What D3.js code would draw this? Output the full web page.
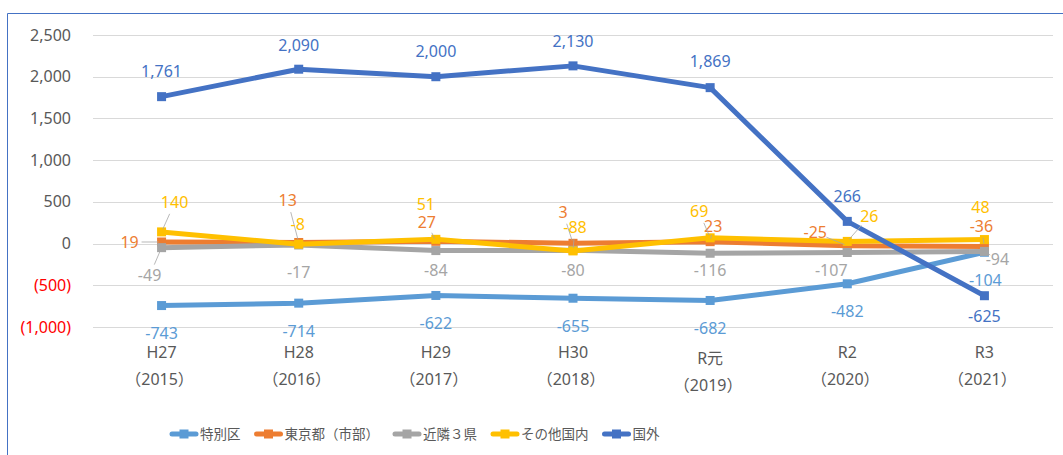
<!DOCTYPE html>
<meta charset="utf-8">
<title>転入超過数の推移</title>
<style>
  body { margin: 0; background: #fff; }
  svg { font-family: "Noto Sans", "Noto Sans CJK JP", sans-serif; }
  .grid line { stroke: #d9d9d9; stroke-width: 1px; }
  .tick-label { font-size: 16px; fill: #595959; }
  .cat-label { font-size: 16px; fill: #595959; }
  .legend text { font-size: 13.5px; fill: #595959; }
  .data-label { font-size: 16px; }
  .leader { stroke: #a6a6a6; stroke-width: 0.8px; fill: none; }
</style>
<svg width="1063" height="455"></svg>
<script src="https://d3js.org/d3.v7.min.js"></script>
<script>
  // categories
  var categories = ["H27", "H28", "H29", "H30", "R元", "R2", "R3"];
  var years = ["（2015）", "（2016）", "（2017）", "（2018）", "（2019）", "（2020）", "（2021）"];

  // series values
  var tokubetsuku = [-743, -714, -622, -655, -682, -482, -104];
  var tokyoShibu = [19, 13, 27, 3, 23, -25, -36];
  var kinrin3ken = [-49, -17, -84, -80, -116, -107, -94];
  var sonotaKokunai = [140, -8, 51, -88, 69, 26, 48];
  var kokugai = [1761, 2090, 2000, 2130, 1869, 266, -625];

  // y tick values
  var yTicks = [2500, 2000, 1500, 1000, 500, 0, -500, -1000];

  // label placement (dx, dy, leader line) per point -- layout only
  var labelPos = {
    "特別区": [[0, 28], [0, 28], [0, 28], [0, 28], [0, 28], [0, 28], [1, 28]],
    "東京都（市部）": [[-32, 0, 1], [-11, -42, 1], [-9, -19, 1], [-10, -31, 1], [3, -15, 1], [-32, -13, 1], [-3, -20, 1]],
    "近隣３県": [[-12, 28, 1], [0, 27], [0, 20], [0, 20], [0, 17], [-16, 18], [13, 8, 1]],
    "その他国内": [[13, -29, 1], [-1, -20], [-10, -35], [2, -24, 1], [-11, -26, 1], [22, -25, 1], [-4, -32]],
    "国外": [[0, -25], [0, -24], [0, -25], [0, -24], [0, -26], [0, -25], [0, 21]]
  };
  var catShift = [0, 0, 0, 0, 6, 0, 0];

  var series = [
    { name: "特別区", values: tokubetsuku, color: "#5b9bd5" },
    { name: "東京都（市部）", values: tokyoShibu, color: "#ed7d31" },
    { name: "近隣３県", values: kinrin3ken, color: "#a5a5a5" },
    { name: "その他国内", values: sonotaKokunai, color: "#ffc000" },
    { name: "国外", values: kokugai, color: "#4472c4" }
  ];

  var svg = d3.select("svg");

  // chart frame (only left / top edges are in view)
  svg.append("path")
    .attr("d", "M7.5,455 V13.5 H1063")
    .attr("fill", "none")
    .attr("stroke", "#4472c4")
    .attr("stroke-width", 1);

  var x = d3.scaleBand().domain(categories).range([93, 1053]).padding(0);
  var y = d3.scaleLinear().domain([-1000, 2500]).range([327, 35]);
  var cx = function (i) { return x(categories[i]) + x.bandwidth() / 2; };

  // gridlines
  svg.append("g").attr("class", "grid")
    .selectAll("line")
    .data(yTicks)
    .join("line")
    .attr("x1", 93).attr("x2", 1053)
    .attr("y1", d => Math.round(y(d)) + 0.5)
    .attr("y2", d => Math.round(y(d)) + 0.5);

  // plain hyphen for negatives, as in the original
  var loc = d3.formatLocale({ decimal: ".", thousands: ",", grouping: [3], currency: ["", ""], minus: "-" });
  var fmt = loc.format(",");

  // y tick labels, negatives in red with parentheses
  svg.append("g")
    .selectAll("text")
    .data(yTicks)
    .join("text")
    .attr("class", "tick-label")
    .attr("x", 71)
    .attr("y", d => y(d))
    .attr("dy", "0.35em")
    .attr("text-anchor", "end")
    .style("fill", d => d < 0 ? "#ff0000" : null)
    .text(d => d < 0 ? "(" + fmt(-d) + ")" : fmt(d));

  // category labels
  var cats = svg.append("g").selectAll("text")
    .data(categories)
    .join("text")
    .attr("class", "cat-label")
    .attr("text-anchor", "middle")
    .attr("x", (d, i) => cx(i));
  cats.append("tspan")
    .attr("x", (d, i) => cx(i))
    .attr("y", (d, i) => 358 + catShift[i])
    .text(d => d);
  cats.append("tspan")
    .attr("x", (d, i) => cx(i) - 2)
    .attr("y", (d, i) => 385 + catShift[i])
    .text((d, i) => years[i]);

  // lines and markers
  var line = d3.line()
    .x((d, i) => cx(i))
    .y(d => y(d));

  series.forEach(function (s) {
    var g = svg.append("g");
    g.append("path")
      .datum(s.values)
      .attr("d", line)
      .attr("fill", "none")
      .attr("stroke", s.color)
      .attr("stroke-width", 5)
      .attr("stroke-linejoin", "round");
    g.selectAll("rect")
      .data(s.values)
      .join("rect")
      .attr("x", (d, i) => cx(i) - 4.5)
      .attr("y", d => y(d) - 4.5)
      .attr("width", 9)
      .attr("height", 9)
      .attr("fill", s.color);
  });

  // data labels
  series.forEach(function (s) {
    var pos = labelPos[s.name];
    var g = svg.append("g");
    s.values.forEach(function (v, i) {
      var p = pos[i];
      var px = cx(i), py = y(v);
      var lx = px + p[0], ly = py + p[1];
      if (p[2]) {
        var dx = lx - px, dy = ly - py;
        var len = Math.sqrt(dx * dx + dy * dy);
        var ux = dx / len, uy = dy / len;
        g.append("line")
          .attr("class", "leader")
          .attr("x1", px + ux * 3).attr("y1", py + uy * 3)
          .attr("x2", lx - ux * Math.min(12, len * 0.55))
          .attr("y2", ly - uy * Math.min(12, len * 0.55));
      }
      g.append("text")
        .attr("class", "data-label")
        .attr("x", lx)
        .attr("y", ly)
        .attr("dy", "0.35em")
        .attr("text-anchor", "middle")
        .attr("fill", s.color)
        .text(fmt(v));
    });
  });

  // legend
  var legend = svg.append("g").attr("class", "legend");
  var lx0 = 170;
  series.forEach(function (s) {
    var item = legend.append("g").attr("transform", "translate(" + lx0 + ",434)");
    item.append("line")
      .attr("x1", 2).attr("x2", 26)
      .attr("y1", 0).attr("y2", 0)
      .attr("stroke", s.color)
      .attr("stroke-width", 5)
      .attr("stroke-linecap", "round");
    item.append("rect")
      .attr("x", 9.5).attr("y", -4.5)
      .attr("width", 9).attr("height", 9)
      .attr("fill", s.color);
    var t = item.append("text")
      .attr("x", 30)
      .attr("y", 0)
      .attr("dy", "0.35em")
      .text(s.name);
    lx0 += 30 + t.node().getComputedTextLength() + 14;
  });
</script>
